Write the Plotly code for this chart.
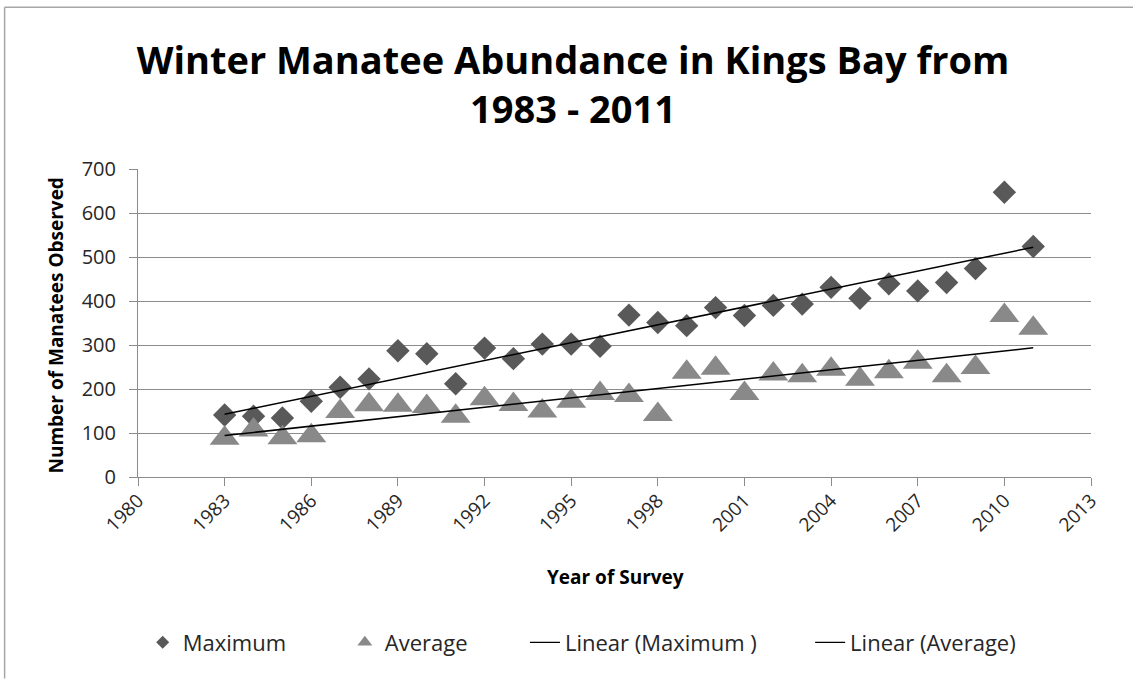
import numpy as np
import plotly.graph_objects as go

years = list(range(1983, 2012))
maximum = [141, 138, 134, 172, 204, 223, 287, 280, 212,
           293, 269, 302, 302, 297, 368, 351, 344, 385, 367, 390,
           393, 431, 406, 439, 423, 442, 474, 647, 524]
average = [88, 107, 89, 94, 149, 164, 163, 160, 138,
           178, 165, 150, 172, 190, 185, 142, 238, 247, 190, 234,
           230, 245, 222, 239, 261, 230, 249, 367, 338]
x_ticks = list(range(1980, 2014, 3))
y_ticks = list(range(0, 701, 100))

title_text = "Winter Manatee Abundance in Kings Bay from<br>1983 - 2011"
x_title = "Year of Survey"
y_title = "Number of Manatees Observed"
names = ["Maximum", "Average", "Linear (Maximum )", "Linear (Average)"]

W, H = 1133, 679
L, R, T, B = 138.3, 1090.7, 169.0, 477.3

def px_x(p):
    return (p - L) / (R - L)

def px_y(p):
    return (B - p) / (B - T)

FONT = "Open Sans, Liberation Sans, sans-serif"
DIAMOND = "#595959"
TRI = "#898989"
GRID = "#8c8c8c"

yrs = np.array(years, dtype=float)
cm = np.polyfit(yrs, np.array(maximum, dtype=float), 1)
ca = np.polyfit(yrs, np.array(average, dtype=float), 1)
trend_x = [years[0], years[-1]]

fig = go.Figure()
fig.add_trace(go.Scatter(x=years, y=maximum, mode="markers", name=names[0],
                         marker=dict(symbol="diamond", size=18, color=DIAMOND),
                         showlegend=False))
fig.add_trace(go.Scatter(x=years, y=average, mode="markers", name=names[1],
                         marker=dict(symbol="triangle-up", size=26, color=TRI),
                         showlegend=False))
fig.add_trace(go.Scatter(x=trend_x, y=list(np.polyval(cm, trend_x)), mode="lines",
                         name=names[2], line=dict(color="black", width=1.5),
                         showlegend=False))
fig.add_trace(go.Scatter(x=trend_x, y=list(np.polyval(ca, trend_x)), mode="lines",
                         name=names[3], line=dict(color="black", width=1.5),
                         showlegend=False))

# legend entries
fig.add_trace(go.Scatter(x=[None], y=[None], mode="markers", name=names[0],
                         marker=dict(symbol="diamond", size=10, color=DIAMOND),
                         legend="legend"))
fig.add_trace(go.Scatter(x=[None], y=[None], mode="markers", name=names[1],
                         marker=dict(symbol="triangle-up", size=13, color=TRI),
                         legend="legend2"))
fig.add_trace(go.Scatter(x=[None], y=[None], mode="lines", name=names[2],
                         line=dict(color="black", width=1.2), legend="legend3"))
fig.add_trace(go.Scatter(x=[None], y=[None], mode="lines", name=names[3],
                         line=dict(color="black", width=1.2), legend="legend4"))

leg_y = px_y(643)
leg_common = dict(orientation="h", yanchor="middle", y=leg_y, xanchor="left",
                  font=dict(family=FONT, size=22, color="#262626"),
                  bgcolor="rgba(0,0,0,0)", borderwidth=0)

fig.update_layout(
    width=W, height=H,
    margin=dict(l=L, r=W - R, t=T, b=H - B, pad=0),
    paper_bgcolor="white", plot_bgcolor="white",
    title=dict(text=title_text, x=573 / W, xanchor="center", xref="container",
               y=1 - 74 / H, yanchor="middle", yref="container",
               font=dict(family=FONT, size=38, color="black", weight="bold")),
    xaxis=dict(range=[1980, 2013], tickmode="array", tickvals=x_ticks,
               ticktext=[str(v) for v in x_ticks], tickangle=-45,
               showgrid=False, zeroline=False, showline=True, linecolor=GRID,
               linewidth=1, ticks="outside", ticklen=8, tickcolor=GRID,
               ticklabelstandoff=-4,
               tickfont=dict(family=FONT, size=19, color="#262626"),
               automargin=False),
    yaxis=dict(range=[0, 700], tickmode="array", tickvals=y_ticks,
               showgrid=True, gridcolor=GRID, gridwidth=1, zeroline=False,
               showline=True, linecolor=GRID, linewidth=1, ticks="outside",
               ticklen=8, tickcolor=GRID, ticklabelstandoff=9,
               tickfont=dict(family=FONT, size=20, color="#262626"),
               automargin=False),
    legend=dict(x=px_x(143), **leg_common),
    legend2=dict(x=px_x(345), **leg_common),
    legend3=dict(x=px_x(525), **leg_common),
    legend4=dict(x=px_x(810), **leg_common),
    annotations=[
        dict(text=x_title, x=px_x(615), y=px_y(577), xref="paper", yref="paper",
             showarrow=False, xanchor="center", yanchor="middle",
             font=dict(family=FONT, size=19, color="black", weight="bold")),
        dict(text=y_title, x=px_x(56), y=px_y(326), xref="paper", yref="paper",
             showarrow=False, xanchor="center", yanchor="middle", textangle=-90,
             font=dict(family=FONT, size=19, color="black", weight="bold")),
    ],
    shapes=[
        dict(type="line", xref="paper", yref="paper", x0=px_x(5), x1=px_x(1133),
             y0=px_y(7), y1=px_y(7), line=dict(color="#a6a6a6", width=1.5)),
        dict(type="line", xref="paper", yref="paper", x0=px_x(5), x1=px_x(5),
             y0=px_y(7), y1=px_y(679), line=dict(color="#a6a6a6", width=1.5)),
    ],
)

fig.write_html("out.html",
               config={"displayModeBar": False},
               post_script="document.body.style.margin='0';document.body.style.overflow='hidden';")
